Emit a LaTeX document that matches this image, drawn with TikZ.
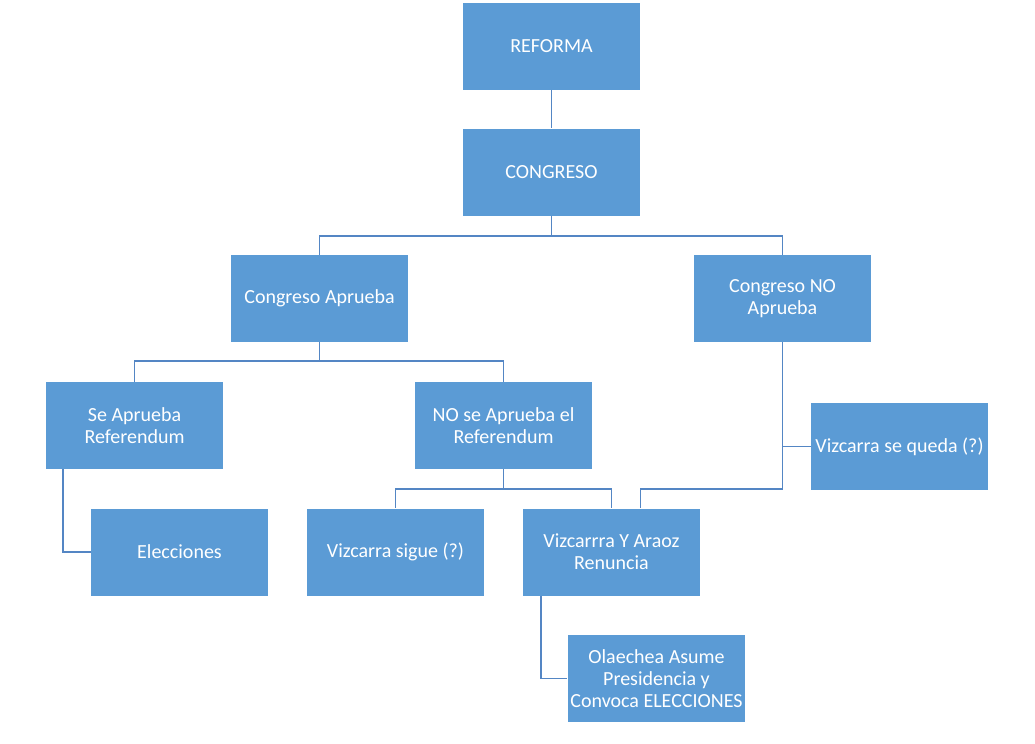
\documentclass[tikz,border=0pt]{standalone}
\usepackage{fontspec}
\setmainfont{Carlito}
\usetikzlibrary{calc}
\definecolor{boxblue}{RGB}{91,155,213}
\definecolor{lineblue}{RGB}{84,134,196}
\tikzset{
  orgbox/.style={rectangle, fill=boxblue, draw=none, minimum width=132.75pt, minimum height=65.25pt,
    inner sep=2pt, align=center, text=white, font=\fontsize{15}{16.3}\selectfont},
  conn/.style={draw=lineblue, line width=1.3pt}
}
\begin{document}
\begin{tikzpicture}[x=0.75pt,y=-0.75pt]
\useasboundingbox (0,0) rectangle (1035,743);
\node[orgbox] (reforma) at (551.5,46) {REFORMA};
\node[orgbox] (congreso) at (551.5,172) {CONGRESO};
\node[orgbox] (aprueba) at (319.5,298.5) {Congreso Aprueba};
\node[orgbox] (noaprueba) at (782.5,298.5) {Congreso NO\\Aprueba};
\node[orgbox] (sirefer) at (134.5,425.5) {Se Aprueba\\Referendum};
\node[orgbox] (norefer) at (503.5,425.5) {NO se Aprueba el\\Referendum};
\node[orgbox] (queda) at (899.5,446.5) {Vizcarra se queda (?)};
\node[orgbox] (elecciones) at (179.5,552) {Elecciones};
\node[orgbox] (sigue) at (395.5,552) {Vizcarra sigue (?)};
\node[orgbox] (renuncia) at (611.5,552) {Vizcarrra Y Araoz\\Renuncia};
\node[orgbox] (olaechea) at (656.5,678.5) {Olaechea Asume\\Presidencia y\\Convoca ELECCIONES};

\draw[conn] (reforma.south) -- (congreso.north);
\draw[conn] (congreso.south) -- ++(0,20) -| (aprueba.north);
\draw[conn] (congreso.south) -- ++(0,20) -| (noaprueba.north);
\draw[conn] (aprueba.south) -- ++(0,19) -| (sirefer.north);
\draw[conn] (aprueba.south) -- ++(0,19) -| (norefer.north);
\draw[conn] ($(sirefer.south west)+(17,0)$) |- (elecciones.west);
\draw[conn] (norefer.south) -- ++(0,20) -| (sigue.north);
\draw[conn] (norefer.south) -- ++(0,20) -| (renuncia.north);
\draw[conn] (noaprueba.south) -- ++(0,147) -| ($(renuncia.north)+(29,0)$);
\draw[conn] (noaprueba.south |- queda.west) -- (queda.west);
\draw[conn] ($(renuncia.south west)+(18,0)$) |- (olaechea.west);
\end{tikzpicture}
\end{document}
